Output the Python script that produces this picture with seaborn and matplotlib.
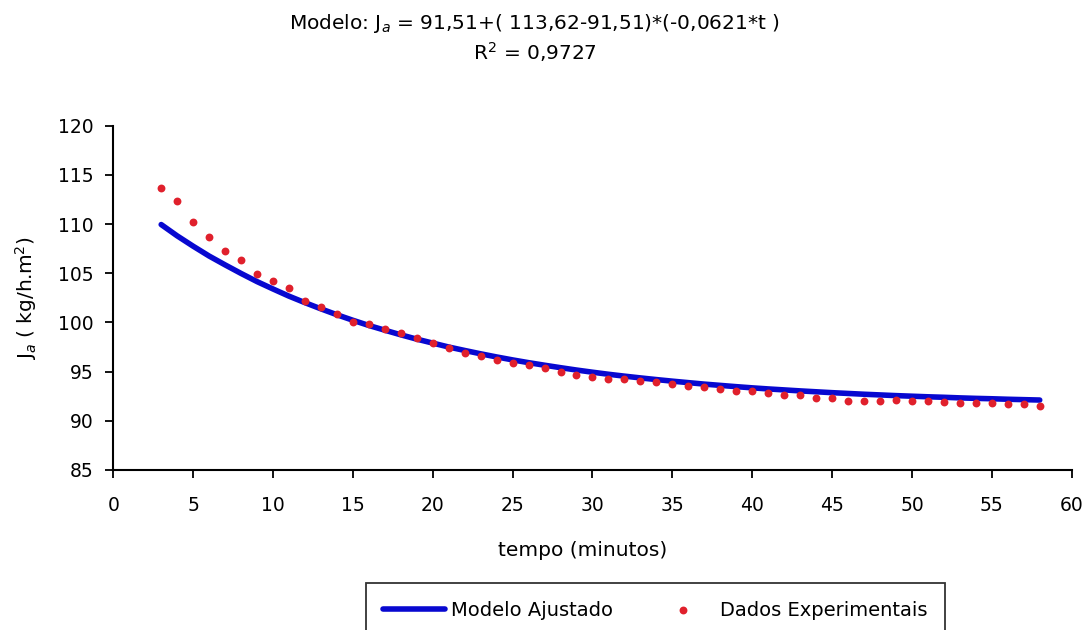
import numpy as np
import pandas as pd
import seaborn as sns
import matplotlib.pyplot as plt

# tempo (minutos)
tempo = list(range(3, 59))

# valores experimentais
dados_exp = [113.62, 112.35, 110.21, 108.72, 107.30, 106.35, 104.93, 104.22,
             103.51, 102.19, 101.57, 100.86, 100.08, 99.85, 99.34, 98.93,
             98.42, 97.91, 97.40, 96.92, 96.59, 96.18, 95.88, 95.67,
             95.37, 94.99, 94.65, 94.46, 94.25, 94.23, 94.09, 93.98,
             93.75, 93.55, 93.48, 93.24, 93.07, 93.04, 92.81, 92.63,
             92.63, 92.30, 92.30, 92.02, 92.05, 92.05, 92.12, 92.05,
             92.05, 91.95, 91.79, 91.79, 91.79, 91.72, 91.72, 91.51]

# curva do modelo ajustado
modelo = [109.95, 108.80, 107.75, 106.75, 105.85, 104.98, 104.15, 103.40,
          102.67, 102.01, 101.38, 100.78, 100.22, 99.69, 99.21, 98.74,
          98.30, 97.90, 97.50, 97.15, 96.81, 96.49, 96.19, 95.91,
          95.65, 95.40, 95.16, 94.94, 94.73, 94.54, 94.36, 94.19,
          94.03, 93.88, 93.73, 93.60, 93.47, 93.35, 93.24, 93.14,
          93.04, 92.95, 92.86, 92.78, 92.70, 92.63, 92.56, 92.50,
          92.44, 92.39, 92.33, 92.28, 92.24, 92.19, 92.15, 92.11]

df = pd.DataFrame({'tempo': tempo, 'exp': dados_exp, 'modelo': modelo})

sns.set_style("ticks")
plt.rcParams['font.family'] = ['DejaVu Sans']
plt.rcParams['text.color'] = 'black'
plt.rcParams['axes.labelcolor'] = 'black'

fig = plt.figure(figsize=(10.87, 6.30), dpi=100)
ax = fig.add_axes([0.1042, 0.254, 0.8817, 0.5465])

sns.lineplot(data=df, x='tempo', y='modelo', ax=ax, color='#0808d0',
             linewidth=4.0, label='Modelo Ajustado', legend=False)
sns.scatterplot(data=df, x='tempo', y='exp', ax=ax, color='#e0202c',
                s=32, linewidth=0, label='Dados Experimentais', legend=False, zorder=3)

ax.set_xlim(0, 60)
ax.set_ylim(85, 120)
ax.set_xticks(range(0, 61, 5))
ax.set_yticks(range(85, 121, 5))
sns.despine(ax=ax)
for s in ['left', 'bottom']:
    ax.spines[s].set_linewidth(1.5)
    ax.spines[s].set_color('black')
ax.tick_params(axis='both', length=6, width=1.3, colors='black', labelsize=13.5)
ax.tick_params(axis='y', pad=8)
ax.tick_params(axis='x', pad=13)

ax.set_xlabel('tempo (minutos)', fontsize=14.5, labelpad=18)
ax.xaxis.set_label_coords(0.49, -0.205)
ax.set_ylabel(r'J$_a$ ( kg/h.m$^2$)', fontsize=14.5, labelpad=14)

fig.text(0.492, 0.962, r'Modelo: J$_a$ = 91,51+( 113,62-91,51)*(-0,0621*t )',
         ha='center', va='center', fontsize=14.5)
fig.text(0.492, 0.918, r'R$^2$ = 0,9727', ha='center', va='center', fontsize=14.5)

h, l = ax.get_legend_handles_labels()
leg = fig.legend(h, l, loc='upper center', bbox_to_anchor=(0.603, 0.0746), ncol=2,
                 frameon=True, fancybox=False, edgecolor='black', fontsize=14,
                 handlelength=3.2, handletextpad=0.3, columnspacing=2.0,
                 borderpad=0.9, borderaxespad=0)
leg.get_frame().set_linewidth(1.3)

fig.savefig('out.png', dpi=100)
